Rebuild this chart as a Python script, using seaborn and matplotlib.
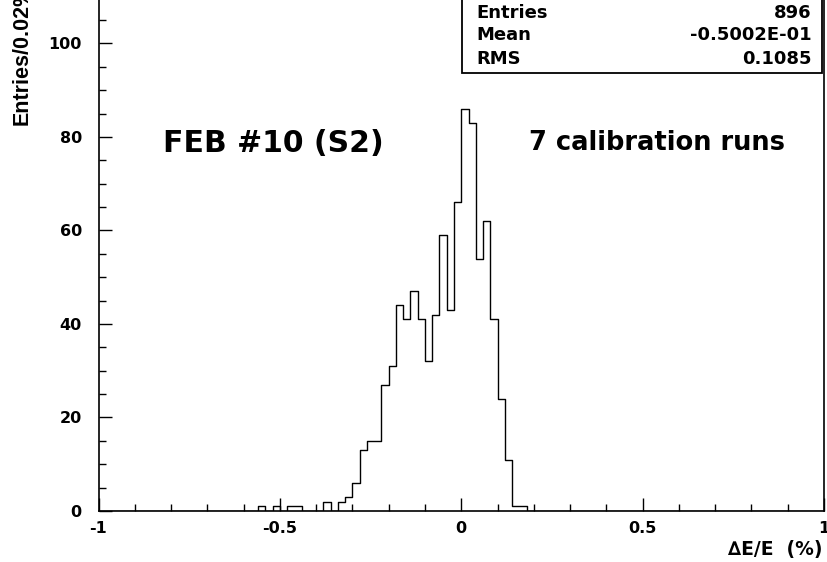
import matplotlib
matplotlib.use("Agg")
import matplotlib.pyplot as plt
import matplotlib.patches as mpatches
import seaborn as sns
import numpy as np
import pandas as pd

# Histogram contents (only the non-empty 0.02 wide bins, given by their lower edge)
bin_low = [-0.56, -0.52, -0.48, -0.46, -0.38, -0.34, -0.32, -0.30, -0.28, -0.26,
           -0.24, -0.22, -0.20, -0.18, -0.16, -0.14, -0.12, -0.10, -0.08, -0.06,
           -0.04, -0.02, 0.00, 0.02, 0.04, 0.06, 0.08, 0.10, 0.12, 0.14, 0.16]
counts = [1, 1, 1, 1, 2, 2, 3, 6, 13, 15,
          15, 27, 31, 44, 41, 47, 41, 32, 42, 59,
          43, 66, 86, 83, 54, 62, 41, 24, 11, 1, 1]

stat_names = ['Entries', 'Mean', 'RMS']
stat_values = ['896', '-0.5002E-01', '0.1085']

x_ticks = [-1, -0.5, 0, 0.5, 1]
x_tick_labels = ['-1', '-0.5', '0', '0.5', '1']
y_ticks = [0, 20, 40, 60, 80, 100]

df = pd.DataFrame({'dE': np.array(bin_low) + 0.01, 'n': counts})

sns.set_style('ticks')
plt.rcParams['font.family'] = ['DejaVu Sans']
plt.rcParams['font.weight'] = 'bold'
plt.rcParams['text.color'] = 'black'
plt.rcParams['xtick.color'] = 'black'
plt.rcParams['ytick.color'] = 'black'

fig = plt.figure(figsize=(8.27, 5.62), dpi=100)
ax = fig.add_axes([98.5 / 827, 51 / 562, (824 - 98.5) / 827, 511 / 562])

sns.histplot(data=df, x='dE', weights='n', binwidth=0.02, binrange=(-1, 1),
             element='step', fill=False, color='black', linewidth=1.0, ax=ax)

ax.set_xlim(-1, 1)
ax.set_ylim(0, 109.3)
ax.set_xticks(x_ticks)
ax.set_xticklabels(x_tick_labels)
ax.set_xticks(np.arange(-1, 1.001, 0.1), minor=True)
ax.set_yticks(y_ticks)
ax.set_yticks(np.arange(0, 110, 5), minor=True)
ax.tick_params(which='major', direction='in', length=9.4, width=1.0, labelsize=11.5)
ax.tick_params(axis='x', which='major', pad=7)
ax.tick_params(axis='y', which='major', pad=12)
ax.tick_params(which='minor', direction='in', length=4.7, width=1.0)
for lab in ax.get_xticklabels() + ax.get_yticklabels():
    lab.set_fontweight('bold')
ax.spines['top'].set_visible(False)
for s in ['left', 'bottom', 'right']:
    ax.spines[s].set_linewidth(1.2)
    ax.spines[s].set_color('black')
ax.set_xlabel('')
ax.set_ylabel('')

# axis titles
fig.text(822 / 827, 1 - 549 / 562, '\u2206E/E  (%)', ha='right', va='center',
         fontsize=13.5, fontweight='bold')
fig.text(22 / 827, 1 - 125 / 562, 'Entries/0.02%', rotation=90, ha='center',
         va='bottom', fontsize=15.5, fontweight='bold', family='Liberation Sans')

# labels inside the frame
ax.text(-0.821, 78.7, 'FEB #10 (S2)', ha='left', va='center', fontsize=21.5,
        fontweight='bold')
ax.text(0.187, 78.7, '7 calibration runs', ha='left', va='center', fontsize=18.5,
        fontweight='bold')

# statistics box
def ax_x(px):
    return (px - 98.5) / 725.5

def ax_y(py):
    return (511 - py) / 511

box = mpatches.Rectangle((ax_x(462), ax_y(73)), ax_x(822) - ax_x(462), 1.0 - ax_y(73) + 0.01,
                         transform=ax.transAxes, facecolor='white', edgecolor='black',
                         linewidth=1.3, clip_on=False, zorder=5)
ax.add_patch(box)
for i, (name, val) in enumerate(zip(stat_names, stat_values)):
    yy = ax_y(12.5 + 23 * i)
    ax.text(ax_x(476), yy, name, transform=ax.transAxes, ha='left', va='center',
            fontsize=13, fontweight='bold', zorder=6)
    ax.text(ax_x(812), yy, val, transform=ax.transAxes, ha='right', va='center',
            fontsize=13, fontweight='bold', zorder=6)

fig.savefig('out.png', dpi=100)
